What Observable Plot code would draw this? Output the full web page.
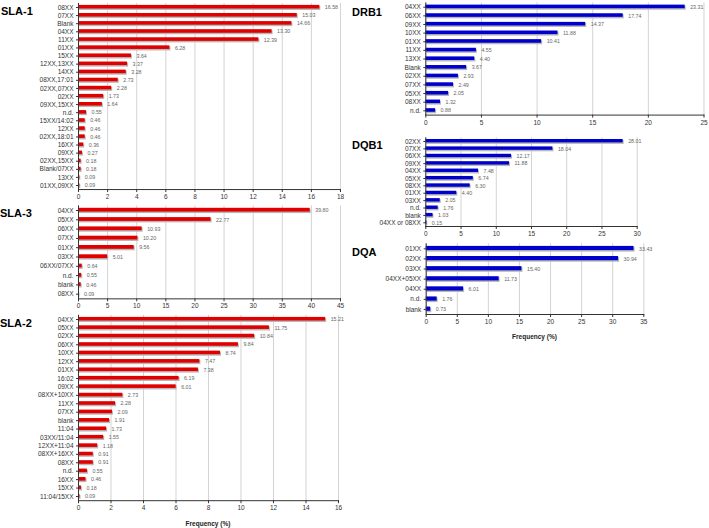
<!DOCTYPE html>
<html>
<head>
<meta charset="utf-8">
<script src="https://cdn.jsdelivr.net/npm/d3@7"></script>
<script src="https://cdn.jsdelivr.net/npm/@observablehq/plot@0.6"></script>
<style>
  body { margin: 0; background: #fff; }
  #root { position: relative; width: 709px; height: 528px; overflow: hidden; font-family: "Liberation Sans", Arial, sans-serif; }
  .title { position: absolute; font-weight: bold; font-size: 11px; line-height: 12px; color: #000; white-space: nowrap; }
  .xlab { position: absolute; font-weight: bold; font-size: 6.5px; line-height: 8px; color: #222; white-space: nowrap; transform: translateX(-50%); }
  .panel { position: absolute; }
  .panel svg { overflow: visible; }
</style>
</head>
<body>
<div id="root"></div>
<script>
// ---- Data ----
const sla1Cats = ["08XX","07XX","Blank","04XX","11XX","01XX","15XX","12XX,13XX","14XX","08XX,17:01","02XX,07XX","02XX","09XX,15XX","n.d.","15XX/14:02","12XX","02XX,18:01","16XX","09XX","02XX,15XX","Blank/07XX","13XX","01XX,09XX"];
const sla1Vals = [16.58,15.03,14.66,13.30,12.39,6.28,3.64,3.37,3.28,2.73,2.28,1.73,1.64,0.55,0.46,0.46,0.46,0.36,0.27,0.18,0.18,0.09,0.09];

const sla3Cats = ["04XX","05XX","06XX","07XX","01XX","03XX","06XX/07XX","n.d.","blank","08XX"];
const sla3Vals = [39.80,22.77,10.93,10.20,9.56,5.01,0.64,0.55,0.46,0.09];

const sla2Cats = ["04XX","05XX","02XX","06XX","10XX","12XX","01XX","16:02","09XX","08XX+10XX","11XX","07XX","blank","11:04","03XX/11:04","12XX+11:04","08XX+16XX","08XX","n.d.","16XX","15XX","11:04/15XX"];
const sla2Vals = [15.21,11.75,10.84,9.84,8.74,7.47,7.38,6.19,6.01,2.73,2.28,2.09,1.91,1.73,1.55,1.18,0.91,0.91,0.55,0.46,0.18,0.09];

const drb1Cats = ["04XX","06XX","09XX","10XX","01XX","11XX","13XX","Blank","02XX","07XX","05XX","08XX","n.d."];
const drb1Vals = [23.31,17.74,14.37,11.88,10.41,4.55,4.40,3.67,2.93,2.49,2.05,1.32,0.88];

const dqb1Cats = ["02XX","07XX","06XX","09XX","04XX","05XX","08XX","01XX","03XX","n.d.","blank","04XX or 08XX"];
const dqb1Vals = [28.01,18.04,12.17,11.88,7.48,6.74,6.30,4.40,2.05,1.76,1.03,0.15];

const dqaCats = ["01XX","02XX","03XX","04XX+05XX","04XX","n.d.","blank"];
const dqaVals = [33.43,30.94,15.40,11.73,6.01,1.76,0.73];

const titles = ["SLA-1","SLA-3","SLA-2","DRB1","DQB1","DQA"];
const xLabel = "Frequency (%)";

const RED = "#e00000", BLUE = "#0000cc";
const root = document.getElementById("root");

function addDiv(cls, text, left, top) {
  const d = document.createElement("div");
  d.className = cls; d.textContent = text;
  d.style.left = left + "px"; d.style.top = top + "px";
  root.appendChild(d);
}

function panel(o) {
  const data = o.cats.map((c, i) => ({cat: c, val: o.vals[i]}));
  const height = o.fy1 - o.top + 16;
  const step = (o.fy1 - o.fy0) / o.cats.length;
  const inset = Math.max(0, (step - o.barH) / 2);
  const ticks = d3.range(0, o.xMax + 1e-9, o.xStep);
  const chart = Plot.plot({
    width: o.width, height,
    marginLeft: o.fx0 - o.left, marginRight: o.left + o.width - o.fx1,
    marginTop: o.fy0 - o.top, marginBottom: height - (o.fy1 - o.top),
    x: {domain: [0, o.xMax], ticks},
    y: {type: "band", domain: o.cats, padding: 0, round: false},
    style: {fontFamily: "'Liberation Sans', Arial, sans-serif", background: "transparent", color: "#333", overflow: "visible"},
    marks: [
      Plot.gridX(ticks, {stroke: "#c8c8c8", strokeOpacity: 1, strokeWidth: 0.8}),
      Plot.barX(data, {y: "cat", x: "val", fill: "#b8b8b8", insetTop: inset + 0.8, insetBottom: inset - 1.2, dx: 1}),
      Plot.barX(data, {y: "cat", x: "val", fill: o.color, insetTop: inset - 0.3, insetBottom: inset + 0.3}),
      Plot.text(data, {y: "cat", x: "val", text: d => d.val.toFixed(2), dx: 5, textAnchor: "start", fontSize: 5.3, fill: "#666"}),
      Plot.frame({anchor: "left", stroke: "#333"}),
      Plot.frame({anchor: "bottom", stroke: "#333"}),
      Plot.axisX({ticks, tickSize: 3, tickPadding: 2, fontSize: 6.5, label: null, stroke: "#333"}),
      Plot.axisY({tickSize: 2, tickPadding: 3, fontSize: 6.5, label: null, stroke: "#333"})
    ]
  });
  const wrap = document.createElement("div");
  wrap.className = "panel";
  wrap.style.left = o.left + "px"; wrap.style.top = o.top + "px";
  wrap.appendChild(chart);
  root.appendChild(wrap);
}

// Left column
panel({cats: sla1Cats, vals: sla1Vals, color: RED, xMax: 18, xStep: 2, left: 0, top: 0, width: 355, fx0: 78, fx1: 340, fy0: 2.95, fy1: 189.05, barH: 3.6});
panel({cats: sla3Cats, vals: sla3Vals, color: RED, xMax: 45, xStep: 5, left: 0, top: 200, width: 355, fx0: 78, fx1: 340, fy0: 205.35, fy1: 298.35, barH: 3.8});
panel({cats: sla2Cats, vals: sla2Vals, color: RED, xMax: 16, xStep: 2, left: 0, top: 310, width: 355, fx0: 78, fx1: 338, fy0: 314.8, fy1: 500.2, barH: 3.6});
// Right column
panel({cats: drb1Cats, vals: drb1Vals, color: BLUE, xMax: 25, xStep: 5, left: 360, top: 0, width: 349, fx0: 425.3, fx1: 703.5, fy0: 2.4, fy1: 114.6, barH: 3.6});
panel({cats: dqb1Cats, vals: dqb1Vals, color: BLUE, xMax: 30, xStep: 5, left: 360, top: 132, width: 349, fx0: 425.3, fx1: 636.7, fy0: 137.3, fy1: 226.0, barH: 3.4});
panel({cats: dqaCats, vals: dqaVals, color: BLUE, xMax: 35, xStep: 5, left: 360, top: 238, width: 349, fx0: 425.7, fx1: 643.3, fy0: 243.25, fy1: 314.0, barH: 4.2});

// Titles
addDiv("title", titles[0], 1, 5);
addDiv("title", titles[1], 0, 207);
addDiv("title", titles[2], 0, 317);
addDiv("title", titles[3], 352, 5.5);
addDiv("title", titles[4], 352, 139);
addDiv("title", titles[5], 352, 245.7);

// Axis titles
addDiv("xlab", xLabel, 208, 520);
addDiv("xlab", xLabel, 534.5, 333);
</script>
</body>
</html>
